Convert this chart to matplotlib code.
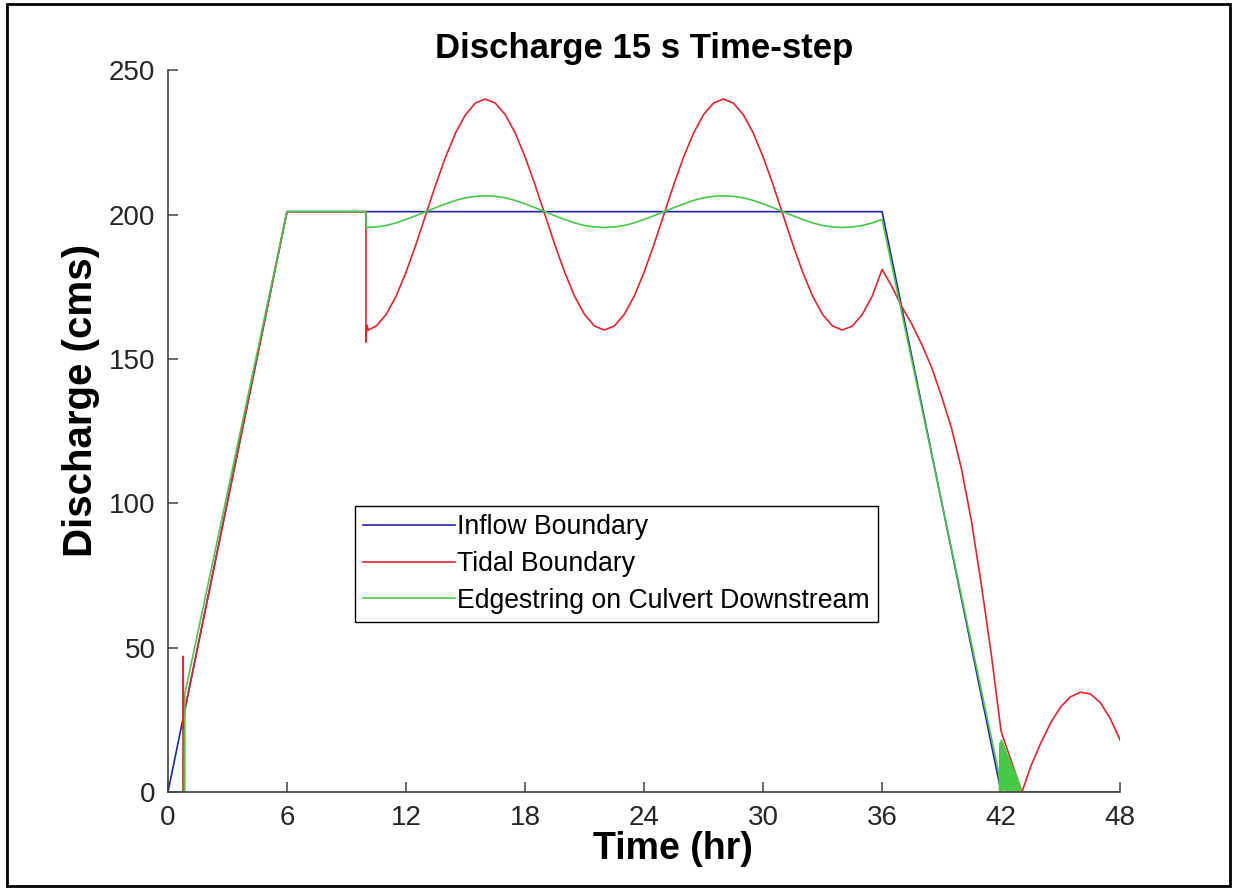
import matplotlib.pyplot as plt
from matplotlib.patches import Rectangle

plt.rcParams['font.family'] = ['Liberation Sans', 'DejaVu Sans']

# Inflow boundary
t_inflow = [0, 6, 36, 42, 48]
q_inflow = [0, 201, 201, 0, 0]

# Tidal boundary
t_tidal = [0, 0.76, 0.76, 0.79, 0.85, 6, 9.98, 9.98, 10.03, 10.1,
           10.5, 11, 11.5, 12, 12.5, 13, 13.5, 14, 14.5, 15, 15.5, 16,
           16.5, 17, 17.5, 18, 18.5, 19, 19.5, 20, 20.5, 21, 21.5, 22,
           22.5, 23, 23.5, 24, 24.5, 25, 25.5, 26, 26.5, 27, 27.5, 28,
           28.5, 29, 29.5, 30, 30.5, 31, 31.5, 32, 32.5, 33, 33.5, 34,
           34.5, 35, 35.5, 36,
           36.5, 37, 37.5, 38, 38.5, 39, 39.5, 40, 40.5, 41, 41.5, 42,
           43.05, 43.5, 44, 44.5, 45, 45.5, 46, 46.5, 47, 47.5, 48]
q_tidal = [0, 0, 47, 22, 28.5, 201, 201, 155.8, 161.7, 160,
           161.4, 165.4, 171.7, 180, 189.6, 200, 210.4, 220, 228.3, 234.6, 238.6, 240,
           238.6, 234.6, 228.3, 220, 210.4, 200, 189.6, 180, 171.7, 165.4, 161.4, 160,
           161.4, 165.4, 171.7, 180, 189.6, 200, 210.4, 220, 228.3, 234.6, 238.6, 240,
           238.6, 234.6, 228.3, 220, 210.4, 200, 189.6, 180, 171.7, 165.4, 161.4, 160,
           161.4, 165.4, 171.7, 181,
           175, 168, 162, 155, 147, 137, 126, 112, 94, 72, 48, 21,
           0, 9, 17, 24, 29.5, 33, 34.6, 34, 31, 25.5, 18]

# Edgestring on culvert downstream
t_edge = [0, 0.85, 0.85, 6, 9.98, 10,
          10.5, 11, 11.5, 12, 12.5, 13, 13.5, 14, 14.5, 15, 15.5, 16,
          16.5, 17, 17.5, 18, 18.5, 19, 19.5, 20, 20.5, 21, 21.5, 22,
          22.5, 23, 23.5, 24, 24.5, 25, 25.5, 26, 26.5, 27, 27.5, 28,
          28.5, 29, 29.5, 30, 30.5, 31, 31.5, 32, 32.5, 33, 33.5, 34,
          34.5, 35, 35.5, 36, 41.9,
          41.93, 41.96, 41.99, 42.02, 42.05, 42.08, 42.11, 42.14, 42.17, 42.20,
          42.23, 42.26, 42.29, 42.32, 42.35, 42.38, 42.41, 42.44, 42.47, 42.50,
          42.53, 42.56, 42.59, 42.62, 42.65, 42.68, 42.71, 42.74, 42.77, 42.80,
          42.83, 42.86, 42.89, 42.92, 42.95, 42.98, 43.0, 48]
q_edge = [0, 0, 34, 201, 201, 195.5,
          195.7, 196.2, 197.1, 198.3, 199.6, 201, 202.4, 203.7, 204.9, 205.8, 206.3, 206.5,
          206.3, 205.8, 204.9, 203.7, 202.4, 201, 199.6, 198.3, 197.1, 196.2, 195.7, 195.5,
          195.7, 196.2, 197.1, 198.3, 199.6, 201, 202.4, 203.7, 204.9, 205.8, 206.3, 206.5,
          206.3, 205.8, 204.9, 203.7, 202.4, 201, 199.6, 198.3, 197.1, 196.2, 195.7, 195.5,
          195.7, 196.2, 197.1, 198.3, 6,
          0, 17, 1, 18, 0, 17, 1, 16, 0, 15,
          1, 14, 0, 13, 1, 12, 0, 11, 1, 10,
          0, 9, 1, 8, 0, 7, 0, 6, 0, 5,
          0, 4, 0, 3, 0, 1, 0, 0]

fig = plt.figure(figsize=(12.35, 8.88), dpi=100)
ax = fig.add_axes([0.136, 0.108, 0.771, 0.813])

ax.plot(t_inflow, q_inflow, color='#2424a8', lw=1.2, label='Inflow Boundary')
ax.plot(t_tidal, q_tidal, color='#e8222c', lw=1.2, label='Tidal Boundary')
ax.plot(t_edge, q_edge, color='#48c848', lw=1.2, label='Edgestring on Culvert Downstream')

ax.set_xlim(0, 48)
ax.set_ylim(0, 250)
ax.set_xticks(range(0, 49, 6))
ax.set_yticks(range(0, 251, 50))

for s in ['top', 'right']:
    ax.spines[s].set_visible(False)
for s in ['left', 'bottom']:
    ax.spines[s].set_color('#404040')
    ax.spines[s].set_linewidth(1.2)

ax.tick_params(direction='in', length=7.5, width=1.1, color='#404040',
               labelsize=20, labelcolor='#262626', pad=9)

ax.set_title('Discharge 15 s Time-step', fontsize=25, fontweight='bold', pad=9)
ax.set_xlabel('Time (hr)', fontsize=27, fontweight='bold')
ax.xaxis.set_label_coords(0.53, -0.054)
ax.set_ylabel('Discharge (cms)', fontsize=29, fontweight='bold')
ax.yaxis.set_label_coords(-0.071, 0.542)

leg = ax.legend(loc='upper left', bbox_to_anchor=(0.196, 0.396), fontsize=19.2,
                handlelength=3.45, handletextpad=0.1, borderaxespad=0,
                labelspacing=0.4, borderpad=0.3, fancybox=False, framealpha=1)
leg.get_frame().set_edgecolor('black')
leg.get_frame().set_linewidth(1.0)

# frame round the whole figure
fig.patches.append(Rectangle((0.006, 0.002), 0.99, 0.994, transform=fig.transFigure,
                             fill=False, lw=2, ec='black'))

fig.savefig('out.png', dpi=100)
